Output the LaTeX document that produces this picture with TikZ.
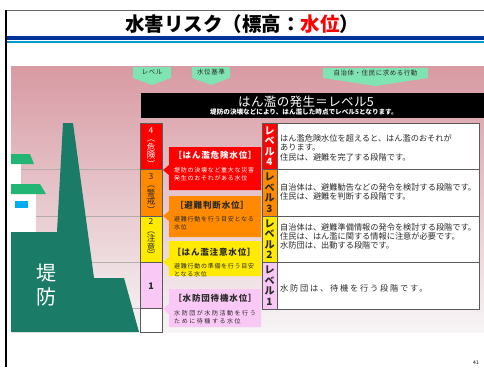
\documentclass[tikz,border=0pt]{standalone}
\usepackage{fontspec}
\newfontfamily\jp{Noto Sans CJK JP}
\newcommand{\lsp}[1]{\addfontfeature{LetterSpace=#1}}
\definecolor{navy}{HTML}{003399}
\definecolor{skyline}{HTML}{0099CC}
\definecolor{panelTop}{HTML}{D89AA3}
\definecolor{panelBot}{HTML}{F6F4F5}
\definecolor{gridgray}{HTML}{B5ABAD}
\definecolor{dike}{HTML}{1A7B67}
\definecolor{roof}{HTML}{22B573}
\definecolor{mint}{HTML}{80E3B2}
\definecolor{lvred}{HTML}{FF0000}
\definecolor{lvorange}{HTML}{FF8A00}
\definecolor{lvyellow}{HTML}{FFEA00}
\definecolor{lvpink}{HTML}{F9C8F4}
\definecolor{cellline}{HTML}{5A5A5A}
\definecolor{ink}{HTML}{2A2A2A}
\tikzset{
  cellbox/.style={draw=cellline, line width=0.9pt},
  tag/.style={fill=mint},
  tagtext/.style={font={\jp\fontsize{6.5}{6.5}\selectfont\lsp{8}}, text=ink, inner sep=0},
  stack/.style={font={\jp\fontsize{8.5}{8.5}\selectfont}, align=center, inner sep=0},
  lvstack/.style={font={\jp\bfseries\fontsize{10}{10.5}\selectfont}, align=center, inner sep=0},
  ctitle/.style={font={\jp\bfseries\fontsize{8.5}{8.5}\selectfont\lsp{10}}, inner sep=0},
  cdesc/.style={font={\jp\fontsize{6}{7.8}\selectfont\lsp{12}}, align=left, inner sep=0, anchor=north west},
  rowtext/.style={font={\jp\fontsize{8.2}{9.6}\selectfont}, align=left, inner sep=0, anchor=north west, text=ink},
}
\begin{document}
\begin{tikzpicture}[x=1pt,y=-1pt]
\useasboundingbox (0,0) rectangle (484,367);
\fill[white] (0,0) rectangle (484,367);

% page frame and heading rule
\draw[gray!80!black, line width=0.6pt] (5,10) -- (484,10);
\draw[black, line width=2pt] (6,10) -- (6,367);
\fill[navy] (7,36) rectangle (484,40);
\fill[skyline] (7,40.8) rectangle (484,42.8);
\node[font={\jp\bfseries\fontsize{19.5}{19.5}\selectfont}, inner sep=0] (title) at (242,24)
  {水害リスク（標高：\textcolor{red}{水位}）};

% background panel
\shade[top color=panelTop, bottom color=panelBot] (11,66) rectangle (484,332);

% water level guide lines
\foreach \yy in {169,216,262,308}
  \draw[gridgray, line width=0.6pt] (11,\yy) -- (140,\yy);

% house
\fill[white] (11,164) rectangle (21,184);
\fill[white] (11,194) rectangle (36,232);
\fill[roof] (11,154) -- (30,154) -- (34,164) -- (11,164) -- cycle;
\fill[roof] (11,184) -- (40,184) -- (46,194) -- (11,194) -- cycle;
\fill[cyan] (15,201) rectangle (28,208);

% embankment
\fill[dike] (11,232) -- (57,232) -- (63,123) -- (73,123) -- (94,278) -- (124,278)
  -- (139,332) -- (11,332) -- cycle;
\node[font={\jp\fontsize{20}{24}\selectfont}, text=white, align=center, inner sep=0] (dikelabel)
  at (46,285.5) {堤\\防};

% column headings
\fill[tag] (133,67) -- (171,67) -- (171,78) -- (152,85) -- (133,78) -- cycle;
\fill[tag] (192,67) -- (230,67) -- (230,78) -- (211,85) -- (192,78) -- cycle;
\fill[tag] (323,68) -- (428,68) -- (428,78) -- (375.5,86) -- (323,78) -- cycle;
\node[tagtext] (hlevel) at (152,72.5) {レベル};
\node[tagtext] (hstage) at (211,72.5) {水位基準};
\node[tagtext] (hact) at (375.5,73) {自治体・住民に求める行動};

% level 5 banner
\fill[black] (141,93) rectangle (484,118);
\node[font={\jp\fontsize{12.5}{12.5}\selectfont\lsp{3}}, text=white, inner sep=0] (l5head) at (306,101.5)
  {はん濫の発生＝レベル5};
\node[font={\jp\bfseries\fontsize{6.6}{6.6}\selectfont}, text=white, inner sep=0] (l5sub) at (304,112)
  {堤防の決壊などにより、はん濫した時点でレベル5となります。};

% level column
\filldraw[cellbox, fill=lvred] (140,123) rectangle (162,169);
\filldraw[cellbox, fill=lvorange] (140,169) rectangle (162,216);
\filldraw[cellbox, fill=lvyellow] (140,216) rectangle (162,262);
\filldraw[cellbox, fill=lvpink] (140,262) rectangle (162,308);
\filldraw[cellbox, fill=white] (140,308) rectangle (162,332);
\node[stack, text=white] (c4) at (151,147) {4\\︵\\危\\険\\︶};
\node[stack, text=ink] (c3) at (151,193) {3\\︵\\警\\戒\\︶};
\node[stack, text=ink] (c2) at (151,238.5) {2\\︵\\注\\意\\︶};
\node[stack, text=ink, font={\jp\bfseries\fontsize{9}{9}\selectfont}] (c1) at (151,286) {1};

% water level callouts
\fill[lvred] (169,147) -- (261,147) -- (261,190) -- (169,190) -- (169,175) -- (163,170) -- (169,165) -- cycle;
\fill[lvorange] (169,196) -- (261,196) -- (261,237) -- (169,237) -- (169,221) -- (163,216) -- (169,211) -- cycle;
\fill[lvyellow] (169,241) -- (261,241) -- (261,276) -- (169,276) -- (169,267) -- (163,262) -- (169,257) -- cycle;
\fill[lvpink] (169,289) -- (261,289) -- (261,327) -- (169,327) -- (169,314) -- (163,309) -- (169,304) -- cycle;

\node[ctitle, text=white] (t4) at (215,155.5) {［はん濫危険水位］};
\node[cdesc, text=white] (d4) at (174,167.5) {堤防の決壊など重大な災害\\発生のおそれがある水位};
\node[ctitle, text=ink] (t3) at (212,205) {［避難判断水位］};
\node[cdesc, text=ink] (d3) at (174,216.5) {避難行動を行う目安となる\\水位};
\node[ctitle, text=ink] (t2) at (214,252) {［はん濫注意水位］};
\node[cdesc, text=ink] (d2) at (174,263.5) {避難行動の準備を行う目安\\となる水位};
\node[ctitle, text=ink] (t1) at (215,298) {［水防団待機水位］};
\node[cdesc, text=ink, font={\jp\fontsize{6}{7.8}\selectfont\lsp{26}}] (d1) at (174,310.5) {水防団が水防活動を行う\\ために待機する水位};

% action table
\filldraw[cellbox, fill=lvred] (262,123) rectangle (277,169);
\filldraw[cellbox, fill=lvorange] (262,169) rectangle (277,216);
\filldraw[cellbox, fill=lvyellow] (262,216) rectangle (277,262);
\filldraw[cellbox, fill=lvpink] (262,262) rectangle (277,309);
\filldraw[cellbox, fill=white] (277,123) rectangle (479,169);
\filldraw[cellbox, fill=white] (277,169) rectangle (479,216);
\filldraw[cellbox, fill=white] (277,216) rectangle (479,262);
\filldraw[cellbox, fill=white] (277,262) rectangle (479,309);

\node[lvstack, text=white] (lv4) at (269.5,146) {レ\\ベ\\ル\\4};
\node[lvstack, text=ink] (lv3) at (269.5,192.5) {レ\\ベ\\ル\\3};
\node[lvstack, text=ink] (lv2) at (269.5,239) {レ\\ベ\\ル\\2};
\node[lvstack, text=ink] (lv1) at (269.5,285.5) {レ\\ベ\\ル\\1};

\node[rowtext] (a4) at (280,134) {はん濫危険水位を超えると、はん濫のおそれが\\あります。\\住民は、避難を完了する段階です。};
\node[rowtext] (a3) at (280,183) {自治体は、避難勧告などの発令を検討する段階です。\\住民は、避難を判断する段階です。};
\node[rowtext, font={\jp\fontsize{8.2}{9.2}\selectfont}] (a2) at (280,223) {自治体は、避難準備情報の発令を検討する段階です。\\住民は、はん濫に関する情報に注意が必要です。\\水防団は、出動する段階です。};
\node[rowtext, font={\jp\fontsize{8.2}{9.6}\selectfont\lsp{22}}] (a1) at (280,284) {水防団は、待機を行う段階です。};

% page number
\node[font={\jp\fontsize{5}{5}\selectfont}, inner sep=0] (pageno) at (476,363) {41};
\end{tikzpicture}
\end{document}
